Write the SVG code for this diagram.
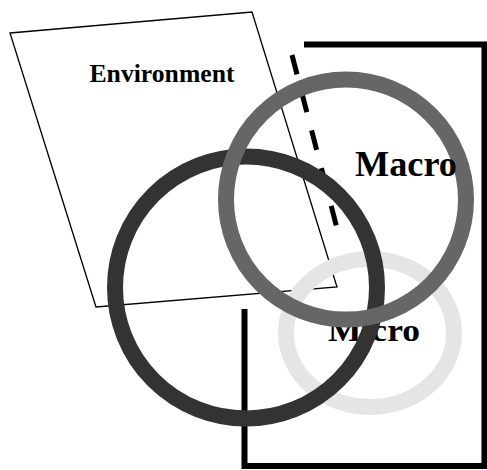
<svg xmlns="http://www.w3.org/2000/svg" width="487" height="470" viewBox="0 0 487 470">
<style>
.lbl{font-family:"Liberation Serif","Times New Roman",serif;font-weight:bold;fill:#000}
.ring{fill:none;stroke-width:16}
</style>
<rect width="487" height="470" fill="#fff"/>
<g id="environment">
<polygon points="10,33 252,12 337,287 96,307" fill="#fff" stroke="#000" stroke-width="1.3"/>
<text class="lbl" x="162" y="82" font-size="25" text-anchor="middle" textLength="145" lengthAdjust="spacingAndGlyphs">Environment</text>
</g>
<g id="frame">
<polyline points="304,44.5 484.5,44.5 484.5,466 244.5,466 244.5,309" fill="none" stroke="#000" stroke-width="6"/>
</g>
<g id="micro">
<ellipse class="ring" cx="370" cy="333" rx="84" ry="74" stroke="#e5e5e5"/>
<text class="lbl" x="374" y="341" font-size="32" text-anchor="middle" textLength="92" lengthAdjust="spacingAndGlyphs">Micro</text>
</g>
<g id="connectors">
<line x1="292" y1="55" x2="339" y2="236" stroke="#000" stroke-width="5" stroke-dasharray="20 19"/>
</g>
<g id="meso">
<circle class="ring" cx="246" cy="287.5" r="131" stroke="#333"/>
</g>
<g id="macro">
<circle class="ring" cx="346" cy="199.5" r="120" stroke="#666"/>
<text class="lbl" x="406" y="176" font-size="36" text-anchor="middle" textLength="102" lengthAdjust="spacingAndGlyphs">Macro</text>
</g>
</svg>
